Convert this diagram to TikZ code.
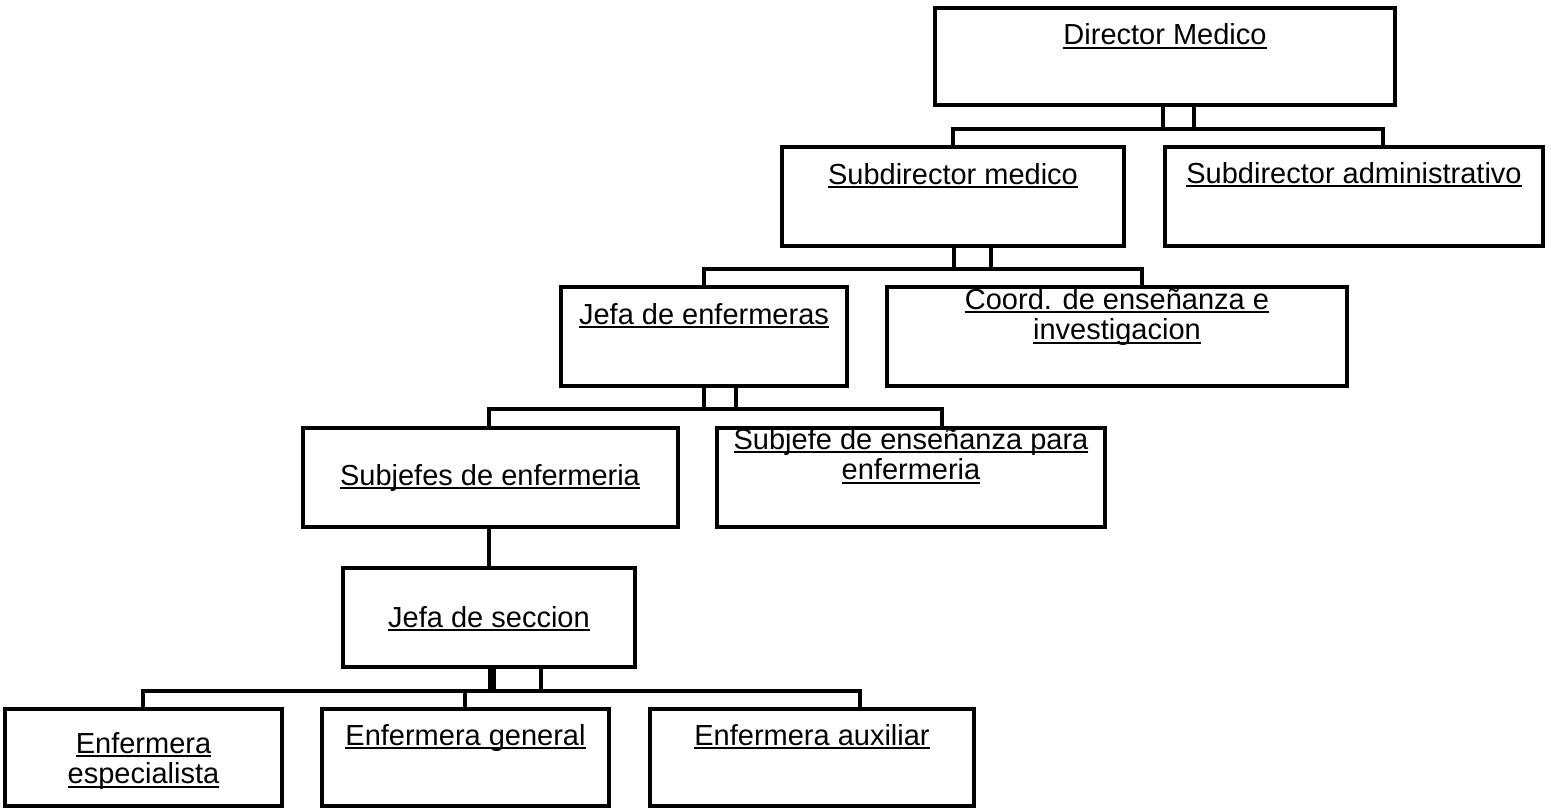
\documentclass[tikz,border=0pt]{standalone}
\usepackage{fontspec}
\setmainfont{Liberation Sans}
\newcommand\ulx[1]{\setbox0=\hbox{#1}\rlap{\rule[-4.1pt]{\wd0}{2.1pt}}\box0}
\newcommand\twoln[2]{\begin{tabular}[t]{@{}c@{}}\ulx{#1}\\\ulx{#2}\end{tabular}}
\begin{document}
\begin{tikzpicture}[x=1pt,y=-1pt,
  orgbox/.style={draw, line width=3.2pt, inner sep=0pt},
  lbl/.style={inner sep=0pt, anchor=base, font=\fontsize{29}{30.5}\selectfont},
  conn/.style={line width=3.2pt}]
\useasboundingbox (0,0) rectangle (1551,808);
% boxes
\node[orgbox, minimum width=460pt, minimum height=97pt] (dir) at (1165,56.5) {};
\node[orgbox, minimum width=342pt, minimum height=99pt] (sdm) at (953,196.5) {};
\node[orgbox, minimum width=378pt, minimum height=99pt] (sda) at (1354,196.5) {};
\node[orgbox, minimum width=286pt, minimum height=99pt] (jde) at (704,336.5) {};
\node[orgbox, minimum width=460pt, minimum height=99pt] (coo) at (1117,336.5) {};
\node[orgbox, minimum width=375pt, minimum height=99pt] (sje) at (490.5,477.5) {};
\node[orgbox, minimum width=388pt, minimum height=99pt] (sen) at (911,477.5) {};
\node[orgbox, minimum width=292pt, minimum height=99pt] (jse) at (489,617.5) {};
\node[orgbox, minimum width=277pt, minimum height=97pt] (ees) at (143.5,757.5) {};
\node[orgbox, minimum width=287pt, minimum height=97pt] (egn) at (465.5,757.5) {};
\node[orgbox, minimum width=324pt, minimum height=97pt] (eax) at (812,757.5) {};
% labels
\node[lbl] (tdir) at (1165,45) {\ulx{Director Medico}};
\node[lbl] (tsdm) at (953,184) {\ulx{Subdirector medico}};
\node[lbl] (tsda) at (1354,183) {\ulx{Subdirector administrativo}};
\node[lbl] (tjde) at (704,324) {\ulx{Jefa de enfermeras}};
\node[lbl] (tcoo) at (1117,309) {\twoln{Coord. de enseñanza e}{investigacion}};
\node[lbl] (tsje) at (490,485) {\ulx{Subjefes de enfermeria}};
\node[lbl] (tsen) at (911,449) {\twoln{Subjefe de enseñanza para}{enfermeria}};
\node[lbl] (tjse) at (489,627) {\ulx{Jefa de seccion}};
\node[lbl] (tees) at (143.5,753) {\twoln{Enfermera}{especialista}};
\node[lbl] (tegn) at (465.5,745) {\ulx{Enfermera general}};
\node[lbl] (teax) at (812,745) {\ulx{Enfermera auxiliar}};
% junction coordinates
\coordinate (j1) at (1383,129);
\coordinate (j2) at (1142,269);
\coordinate (j3) at (942,409);
\coordinate (j4) at (860,691);
% Director -> subdirectores
\draw[conn] ([xshift=-2pt]dir.south) -- ([xshift=-2pt]dir.south |- j1);
\draw[conn] ([xshift=29pt]dir.south) -- ([xshift=29pt]dir.south |- j1);
\draw[conn] (sdm.north) |- (j1) -- (j1 |- sda.north);
% Subdirector medico -> jefa / coord
\draw[conn] ([xshift=1pt]sdm.south) -- ([xshift=1pt]sdm.south |- j2);
\draw[conn] ([xshift=38pt]sdm.south) -- ([xshift=38pt]sdm.south |- j2);
\draw[conn] (jde.north) |- (j2) -- (j2 |- coo.north);
% Jefa de enfermeras -> subjefes
\draw[conn] (jde.south) -- (jde.south |- j3);
\draw[conn] ([xshift=32pt]jde.south) -- ([xshift=32pt]jde.south |- j3);
\draw[conn] ([xshift=-1.5pt]sje.north) |- (j3) -- (j3 |- sen.north);
% Subjefes -> Jefa de seccion
\draw[conn] (sje.south -| jse.north) -- (jse.north);
% Jefa de seccion -> enfermeras
\draw[conn] ([xshift=1pt]jse.south) -- ([xshift=1pt]jse.south |- j4);
\draw[conn] ([xshift=5pt]jse.south) -- ([xshift=5pt]jse.south |- j4);
\draw[conn] ([xshift=52pt]jse.south) -- ([xshift=52pt]jse.south |- j4);
\draw[conn] ([xshift=-0.5pt]ees.north) |- (j4) -- (j4 |- eax.north);
\draw[conn] ([xshift=-0.5pt]egn.north) -- ([xshift=-0.5pt]egn.north |- j4);
\end{tikzpicture}
\end{document}
